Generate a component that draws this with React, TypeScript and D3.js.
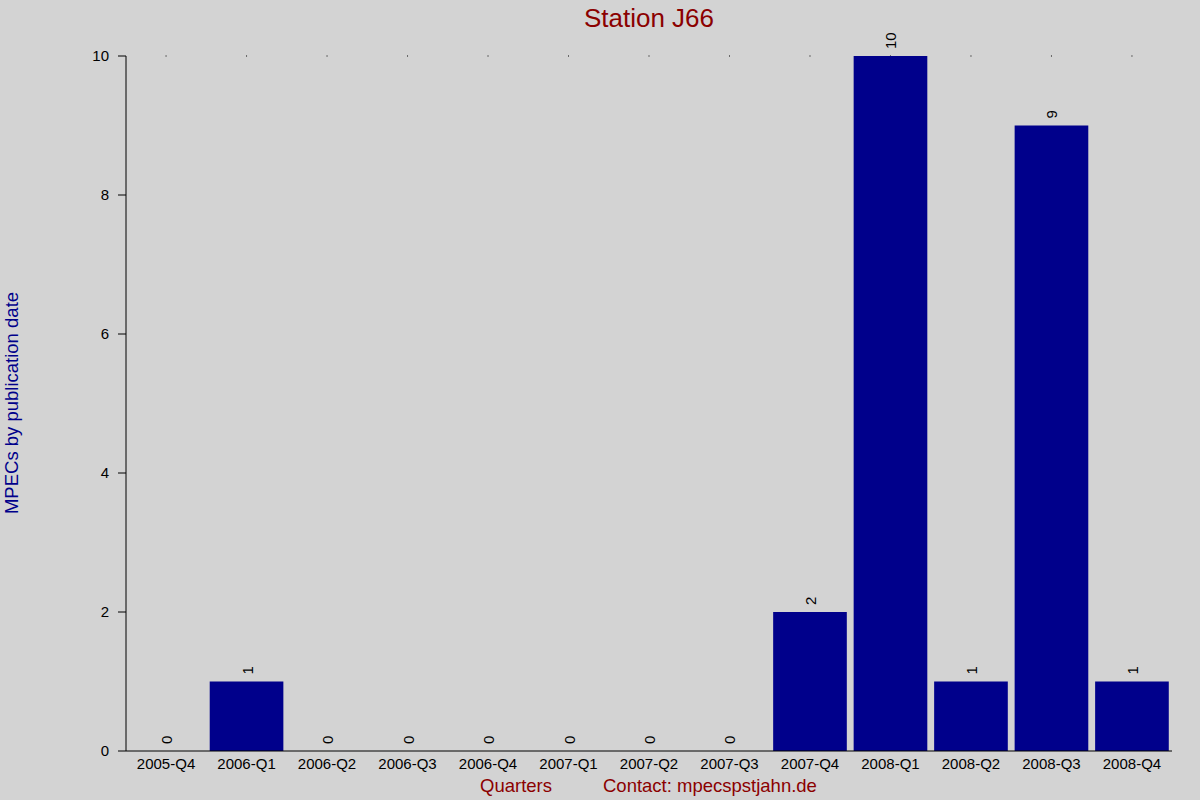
import * as d3 from "d3";

const quarters = [
  "2005-Q4", "2006-Q1", "2006-Q2", "2006-Q3", "2006-Q4", "2007-Q1", "2007-Q2",
  "2007-Q3", "2007-Q4", "2008-Q1", "2008-Q2", "2008-Q3", "2008-Q4",
];
const counts = [0, 1, 0, 0, 0, 0, 0, 0, 2, 10, 1, 9, 1];
const yTicks = [0, 2, 4, 6, 8, 10];

const W = 1200;
const H = 800;
const m = { top: 56, right: 28, bottom: 49, left: 126 };
const font = "'Liberation Sans', Arial, sans-serif";

export default function App() {
  const x = d3
    .scaleBand<string>()
    .domain(quarters)
    .range([m.left, W - m.right])
    .paddingInner(0.085)
    .paddingOuter(0.04);
  const y = d3.scaleLinear().domain([0, 10]).range([H - m.bottom, m.top]);
  const cx = (q: string) => (x(q) ?? 0) + x.bandwidth() / 2;

  return (
    <svg
      width={W}
      height={H}
      style={{ position: "absolute", left: 0, top: 0, fontFamily: font }}
    >
      <rect width={W} height={H} fill="#d3d3d3" />

      <text x={649} y={27} textAnchor="middle" fontSize={26} fill="#8b0000">
        Station J66
      </text>

      {/* dotted marks at the top */}
      {quarters.map((q) => (
        <rect key={q} x={cx(q) - 0.5} y={y(10) - 0.5} width={1} height={1} fill="#000" />
      ))}

      {/* bars */}
      {quarters.map((q, i) => (
        <rect
          key={q}
          x={x(q)}
          y={y(counts[i])}
          width={x.bandwidth()}
          height={y(0) - y(counts[i])}
          fill="#00008b"
        />
      ))}

      {/* value labels */}
      {quarters.map((q, i) => (
        <text
          key={q}
          transform={`translate(${cx(q) + 6},${y(counts[i]) - 7}) rotate(-90)`}
          fontSize={15}
          fill="#000"
        >
          {counts[i]}
        </text>
      ))}

      {/* axes */}
      <line x1={m.left} x2={m.left} y1={y(10)} y2={y(0)} stroke="#000" />
      <line x1={m.left} x2={W - m.right} y1={y(0)} y2={y(0)} stroke="#000" />
      {yTicks.map((t) => (
        <g key={t} transform={`translate(0,${y(t)})`}>
          <line x1={m.left - 8} x2={m.left} stroke="#000" />
          <text x={m.left - 17} dy="0.35em" textAnchor="end" fontSize={15}>
            {t}
          </text>
        </g>
      ))}
      {quarters.map((q) => (
        <text key={q} x={cx(q)} y={y(0) + 18} textAnchor="middle" fontSize={15}>
          {q}
        </text>
      ))}

      <text x={516} y={792} textAnchor="middle" fontSize={18.5} fill="#8b0000">
        Quarters
      </text>
      <text x={603} y={792} fontSize={18.5} fill="#8b0000">
        Contact: mpecspstjahn.de
      </text>
      <text
        transform={`translate(18,403) rotate(-90)`}
        textAnchor="middle"
        fontSize={18.5}
        fill="#00008b"
      >
        MPECs by publication date
      </text>
    </svg>
  );
}
